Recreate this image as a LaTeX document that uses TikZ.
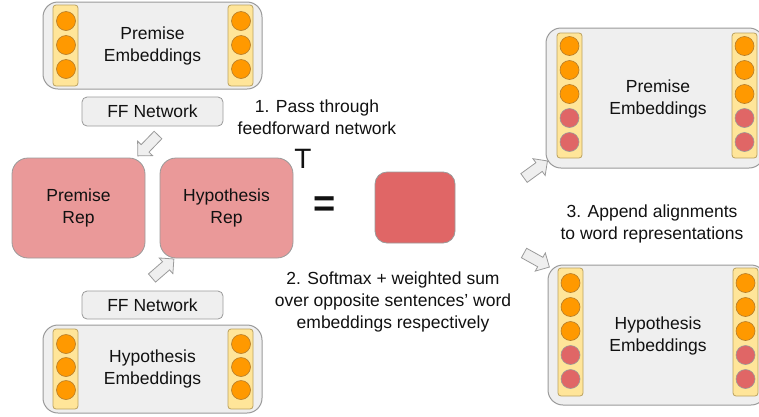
\documentclass[tikz,border=0pt]{standalone}
\usepackage{fontspec}
\setmainfont{Liberation Sans}
\usetikzlibrary{shapes.arrows}

\definecolor{boxgray}{HTML}{EFEFEF}
\definecolor{edgegray}{HTML}{9A9A9A}
\definecolor{repPink}{HTML}{EA9999}
\definecolor{scoreRed}{HTML}{E06666}
\definecolor{dotOrange}{HTML}{FF9900}
\definecolor{stripYellow}{HTML}{FFE599}
\definecolor{stripEdge}{HTML}{BBA260}
\definecolor{dotEdge}{HTML}{B27B2C}
\definecolor{ink}{HTML}{111111}

\begin{document}
\begin{tikzpicture}[x=1pt,y=-1pt,
  font=\fontsize{17.5}{22}\selectfont, text=ink,
  every node/.style={inner sep=0pt, outer sep=0pt},
  embbox/.style={draw=edgegray, fill=boxgray, line width=1pt,
    rounded corners=15pt, align=center},
  ffbox/.style={draw=edgegray, fill=boxgray, line width=0.8pt,
    rounded corners=5pt, minimum width=141pt, minimum height=29pt},
  repbox/.style={draw=edgegray, fill=repPink, line width=0.8pt,
    rounded corners=16pt, minimum width=133pt, minimum height=100pt,
    align=center},
  strip/.style={draw=stripEdge, fill=stripYellow, line width=0.8pt,
    rounded corners=3pt, minimum width=25pt},
  dot/.style={circle, draw=dotEdge, line width=0.6pt, fill=dotOrange,
    minimum size=19pt},
  rdot/.style={dot, fill=scoreRed, draw=edgegray},
  fatarrow/.style={single arrow, draw=edgegray, fill=boxgray,
    line width=0.8pt, inner sep=5pt, minimum height=29pt,
    single arrow head extend=5pt, anchor=tail},
  note/.style={align=center}
]
\useasboundingbox (0,0) rectangle (759,416);

% ---- premise embeddings (input) ----
\node[embbox, minimum width=219pt, minimum height=87pt] (pemb) at (152.5,45.5)
  {Premise\\Embeddings};
\node[strip, minimum height=81pt] (pembL) at (65.5,45.5) {};
\node[strip, minimum height=81pt] (pembR) at (240.5,45.5) {};
\foreach \y [count=\i] in {21,45,69} {
  \node[dot] (pembL\i) at (66,\y) {};
  \node[dot] (pembR\i) at (241,\y) {};
}

% ---- hypothesis embeddings (input) ----
\node[embbox, minimum width=219pt, minimum height=88pt] (hemb) at (152.5,369)
  {Hypothesis\\Embeddings};
\node[strip, minimum height=80pt] (hembL) at (65.5,369) {};
\node[strip, minimum height=80pt] (hembR) at (240.5,369) {};
\foreach \y [count=\i] in {344,367,390} {
  \node[dot] (hembL\i) at (66,\y) {};
  \node[dot] (hembR\i) at (241,\y) {};
}

% ---- feedforward networks ----
\node[ffbox] (fftop) at (152.5,111.5) {FF Network};
\node[ffbox, minimum height=28pt] (ffbot) at (152.5,305) {FF Network};

% ---- representations ----
\node[repbox] (prep) at (78.5,208) {Premise\\Rep};
\node[repbox] (hrep) at (226.5,208) {Hypothesis\\Rep};
\node[font=\fontsize{28}{28}\selectfont] (transp) at (303,159) {T};
\node[font=\fontsize{38}{38}\selectfont\bfseries] (eq) at (325,207) {=};
\node[draw=edgegray, fill=scoreRed, line width=0.8pt, rounded corners=12pt,
  minimum width=80pt, minimum height=71pt] (score) at (415,207.5) {};

% ---- step labels ----
\node[note] (step1) at (317,117) {1. Pass through\\feedforward network};
\node[note] (step2) at (393,302)
  {2. Softmax + weighted sum\\over opposite sentences' word\\embeddings respectively};
\node[note] (step3) at (652,224) {3. Append alignments\\to word representations};

% ---- premise embeddings (with alignments) ----
\node[embbox, minimum width=218pt, minimum height=140pt] (pout) at (655,98) {};
\node (poutText) at (658,99) [align=center] {Premise\\Embeddings};
\node[strip, minimum height=125pt] (poutL) at (569.5,95.5) {};
\node[strip, minimum height=125pt] (poutR) at (744.5,95.5) {};
\foreach \y [count=\i] in {46,70,94} {
  \node[dot] (poutL\i) at (569.5,\y) {};
  \node[dot] (poutR\i) at (744.5,\y) {};
}
\foreach \y [count=\i from 4] in {118,142} {
  \node[rdot] (poutL\i) at (569.5,\y) {};
  \node[rdot] (poutR\i) at (744.5,\y) {};
}

% ---- hypothesis embeddings (with alignments) ----
\node[embbox, minimum width=218pt, minimum height=140pt] (hout) at (657,335) {};
\node (houtText) at (658,336) [align=center] {Hypothesis\\Embeddings};
\node[strip, minimum height=128pt] (houtL) at (570.5,332) {};
\node[strip, minimum height=128pt] (houtR) at (745.5,332) {};
\foreach \y [count=\i] in {283,307,331} {
  \node[dot] (houtL\i) at (570.5,\y) {};
  \node[dot] (houtR\i) at (745.5,\y) {};
}
\foreach \y [count=\i from 4] in {355,379} {
  \node[rdot] (houtL\i) at (570.5,\y) {};
  \node[rdot] (houtR\i) at (745.5,\y) {};
}

% ---- block arrows ----
\coordinate (a1) at (158,135);
\coordinate (a2) at (152,278);
\coordinate (a3) at (524,178);
\coordinate (a4) at (524,253);
\node[fatarrow, rotate=226] (arrPrem) at (a1) {};
\node[fatarrow, rotate=41] (arrHyp) at (a2) {};
\node[fatarrow, rotate=36] (arrPout) at (a3) {};
\node[fatarrow, rotate=-29] (arrHout) at (a4) {};
\end{tikzpicture}
\end{document}
